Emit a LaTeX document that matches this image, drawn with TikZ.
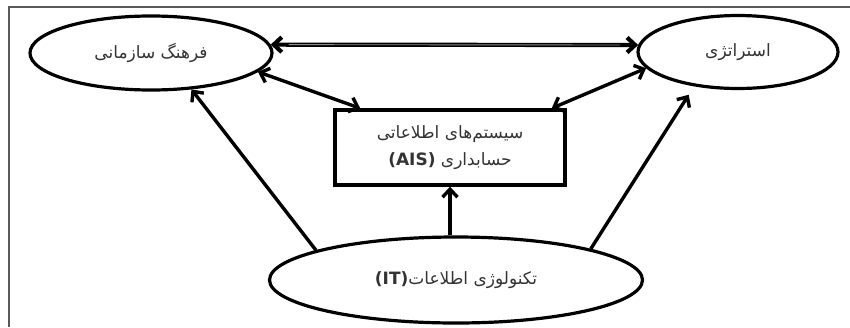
\documentclass[tikz,border=0pt]{standalone}
\usepackage{fontspec}
\setmainfont{DejaVu Sans}
\newfontfamily\arabicfont[Script=Arabic]{DejaVu Sans}
\TeXXeTstate=1
\usetikzlibrary{arrows.meta,shapes.geometric,calc}
\tikzset{
  oval/.style={ellipse, draw=black, line width=3.2pt, inner sep=0pt, font=\arabicfont\fontsize{17}{20}\selectfont, text=black!80},
  aisbox/.style={rectangle, draw=black, line width=3.4pt, inner sep=0pt, align=center, font=\arabicfont\fontsize{17}{27}\selectfont, text=black!80},
  conn/.style={line width=3.4pt, draw=black, arrows={-Straight Barb[length=8pt,width=15pt]}},
  biconn/.style={line width=3.4pt, draw=black, arrows={Straight Barb[length=8pt,width=15pt]-Straight Barb[length=8pt,width=15pt]}},
  frameline/.style={draw=black!65, line width=1.6pt}
}
\begin{document}
\begin{tikzpicture}[x=1pt,y=-1pt]
\useasboundingbox (0,0) rectangle (850,327);
\fill[white] (0,0) rectangle (850,327);
% frame
\coordinate (ftr) at (850,7);
\coordinate (ftl) at (9,7);
\coordinate (fbl) at (9,327);
\draw[frameline] (ftr) -- (ftl) -- (fbl);
% nodes
\node[oval, minimum width=242pt, minimum height=74pt] (fc) at (151,53) {\beginR فرهنگ سازمانی\endR};
\node[oval, minimum width=200pt, minimum height=73pt] (st) at (738,52) {\beginR استراتژی\endR};
\node[aisbox, minimum width=230pt, minimum height=75pt] (ais) at (450,147.5) {\beginR سیستم‌های اطلاعاتی\endR\\\beginR حسابداری \beginL{\bfseries(AIS)}\endL\endR};
\node[oval, minimum width=373pt, minimum height=86pt] (it) at (456,280) {\beginR تکنولوژی اطلاعات\beginL{\bfseries(IT)}\endL\endR};
% connectors
\draw[biconn, line width=4.2pt] (fc.4) -- (st.176);
\draw[black!45, line width=0.9pt, shorten <=18pt, shorten >=18pt] (fc.4) -- (st.176);
\draw[biconn] (fc.-10) -- ($(ais.north west)+(27,0)$);
\draw[biconn] ($(ais.north east)+(-15,0)$) -- (st.190);
\draw[conn] (it.168) -- (fc.-42);
\draw[conn, shorten >=10pt] (it.13) -- (st.218);
\draw[conn] (ais.south |- it.north) -- (ais.south);
\end{tikzpicture}
\end{document}
